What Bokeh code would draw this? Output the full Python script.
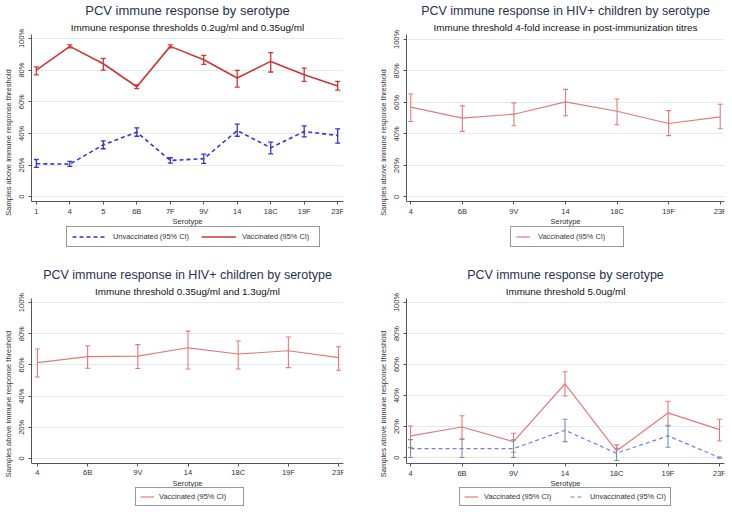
from bokeh.plotting import figure
from bokeh.layouts import gridplot
from bokeh.models import (ColumnDataSource, Whisker, TeeHead, Range1d, FixedTicker,
                          Legend, LegendItem, Title)
from bokeh.embed import file_html
from bokeh.resources import INLINE

FONT = "Liberation Sans"

# ---------------- data (percent of samples above threshold, with 95% CI) ----------------
# Panel 1: thresholds 0.2ug/ml and 0.35ug/ml
p1_serotypes = ["1", "4", "5", "6B", "7F", "9V", "14", "18C", "19F", "23F"]
p1_vacc = [80, 95, 84, 69.5, 95, 86.5, 75, 85.5, 77, 70]
p1_vacc_lo = [77, 94, 80, 68.3, 94, 83.6, 69.3, 78.8, 72.9, 67.4]
p1_vacc_hi = [82, 96, 87.4, 70.6, 96, 89.3, 79.8, 91, 81.3, 72.9]
p1_unvacc = [20.8, 20.6, 32.8, 40.8, 22.9, 24, 41.8, 30.9, 41.2, 38.7]
p1_unvacc_lo = [18.5, 19.1, 30.3, 38.2, 21.2, 21, 38.2, 27.1, 37.8, 33.8]
p1_unvacc_hi = [23.5, 22.3, 35.3, 43.5, 24.6, 26.9, 45.8, 34.5, 44.7, 42.9]

# Panel 2: HIV+ children, 4-fold increase
p2_serotypes = ["4", "6B", "9V", "14", "18C", "19F", "23F"]
p2_vacc = [57, 50, 52.5, 60.3, 54.4, 46.6, 50.8]
p2_vacc_lo = [47.9, 41.6, 45.2, 51.5, 45.8, 38.9, 43.3]
p2_vacc_hi = [65.3, 57.8, 59.7, 68.3, 62.2, 54.8, 58.8]

# Panel 3: HIV+ children, thresholds 0.35ug/ml and 1.3ug/ml
p3_serotypes = ["4", "6B", "9V", "14", "18C", "19F", "23F"]
p3_vacc = [61.5, 65.3, 65.7, 71, 67, 69.1, 64.7]
p3_vacc_lo = [52.3, 57.9, 57.7, 57.4, 57.4, 58.3, 56.6]
p3_vacc_hi = [70.2, 72.3, 73, 81.7, 75.3, 77.9, 71.7]

# Panel 4: threshold 5.0ug/ml
p4_serotypes = ["4", "6B", "9V", "14", "18C", "19F", "23F"]
p4_vacc = [14, 19.7, 10.3, 47.6, 4.3, 28.8, 18]
p4_vacc_lo = [6.4, 11.8, 3.4, 39.7, -1.9, 20.8, 10.7]
p4_vacc_hi = [20.4, 27, 15.7, 55.4, 8.2, 36.3, 24.7]
p4_unvacc = [5.8, 5.8, 5.8, 17.6, 2.8, 14, 0]
p4_unvacc_lo = [0, 0, 0, 10.3, -1.9, 6.7, -0.4]
p4_unvacc_hi = [11.6, 12, 11.4, 24.7, 6, 20.4, 0.4]

y_ticks = [0, 20, 40, 60, 80, 100]
y_tick_labels = ["0", "20%", "40%", "60%", "80%", "100%"]

TITLE_COLOR = "#28324e"
TEXT_COLOR = "#333333"


def make_panel(title, subtitle, cats, series, geo):
    p = figure(width=366, height=256, output_backend="svg", toolbar_location=None,
               x_range=Range1d(geo["x0"], geo["x1"]), y_range=Range1d(geo["y0"], geo["y1"]),
               min_border_left=geo["bl"], min_border_right=geo["br"],
               min_border_top=geo["bt"], min_border_bottom=geo["bb"])
    p.outline_line_color = None
    p.background_fill_color = "white"
    p.border_fill_color = "white"

    p.add_layout(Title(text=subtitle, align="center", text_font=FONT, text_font_size="9.9px",
                       text_font_style="normal", text_color="#111111", standoff=4), "above")
    p.add_layout(Title(text=title, align="center", text_font=FONT,
                       text_font_size=geo["tfs"], text_font_style="normal",
                       text_color=TITLE_COLOR, standoff=0), "above")

    idx = list(range(len(cats)))
    items = []
    for s in series:
        src = ColumnDataSource(dict(x=idx, y=s["y"], lo=s["lo"], hi=s["hi"]))
        r = p.line("x", "y", source=src, line_color=s["color"], line_width=s["lw"],
                   line_dash=s["dash"])
        head_kw = dict(size=5, line_color=s["bar"], line_width=s["blw"])
        w = Whisker(base="x", lower="lo", upper="hi", source=src, line_color=s["bar"],
                    line_width=s["blw"], upper_head=TeeHead(**head_kw),
                    lower_head=TeeHead(**head_kw))
        p.add_layout(w)
        items.append(LegendItem(label=s["label"], renderers=[r]))

    # x axis (drawn at the bottom of the data region; the legend sits below it)
    xa = p.xaxis[0]
    xa.fixed_location = geo["xax"]
    xa.ticker = FixedTicker(ticks=idx)
    xa.major_label_overrides = {i: c for i, c in enumerate(cats)}
    xa.axis_label = "Serotype"
    xa.axis_label_standoff = -2
    xa.major_label_standoff = 2
    xa.minor_tick_line_color = None
    xa.major_tick_in = 0
    xa.major_tick_out = 3
    xa.axis_line_color = "#555555"
    xa.major_tick_line_color = "#555555"
    xa.major_label_text_font = FONT
    xa.major_label_text_font_size = "7.5px"
    xa.major_label_text_color = TEXT_COLOR
    xa.axis_label_text_font = FONT
    xa.axis_label_text_font_size = "7.5px"
    xa.axis_label_text_font_style = "normal"
    xa.axis_label_text_color = TEXT_COLOR

    # y axis
    ya = p.yaxis[0]
    ya.bounds = (geo["xax"], geo["y1"])
    ya.ticker = FixedTicker(ticks=y_ticks)
    ya.major_label_overrides = {t: l for t, l in zip(y_ticks, y_tick_labels)}
    ya.major_label_orientation = "vertical"
    ya.axis_label = "Samples above immune response threshold"
    ya.axis_label_standoff = 2
    ya.major_label_standoff = 2
    ya.minor_tick_line_color = None
    ya.major_tick_in = 0
    ya.major_tick_out = 3
    ya.axis_line_color = "#555555"
    ya.major_tick_line_color = "#555555"
    ya.major_label_text_font = FONT
    ya.major_label_text_font_size = "7.5px"
    ya.major_label_text_color = TEXT_COLOR
    ya.axis_label_text_font = FONT
    ya.axis_label_text_font_size = "7.5px"
    ya.axis_label_text_font_style = "normal"
    ya.axis_label_text_color = TEXT_COLOR

    p.xgrid.visible = False
    p.ygrid.ticker = FixedTicker(ticks=y_ticks)
    p.ygrid.grid_line_color = "#e3ebef"

    leg = Legend(items=items, location=geo["leg"], orientation="horizontal",
                 border_line_color="#333333", border_line_width=1,
                 background_fill_color="white", background_fill_alpha=1.0,
                 padding=geo["lpad"], spacing=geo["lspace"], margin=0,
                 glyph_width=geo["gw"], glyph_height=9, label_height=9,
                 label_width=geo["lw"], label_standoff=geo["lso"],
                 label_text_font=FONT, label_text_font_size="7.4px",
                 label_text_color=TEXT_COLOR)
    p.add_layout(leg)
    return p


RED_DARK = "#d13434"
BLUE_DARK = "#3535d6"
RED_LIGHT = "#e57a7a"
BLUE_LIGHT = "#7878f2"
SLATE = "#7d8da8"

p1 = make_panel(
    "PCV immune response by serotype",
    "Immune response thresholds 0.2ug/ml and 0.35ug/ml",
    p1_serotypes,
    [dict(y=p1_unvacc, lo=p1_unvacc_lo, hi=p1_unvacc_hi, color=BLUE_DARK, bar=BLUE_DARK,
          lw=1.6, blw=1.3, dash="4 3", label="Unvaccinated (95% CI)"),
     dict(y=p1_vacc, lo=p1_vacc_lo, hi=p1_vacc_hi, color=RED_DARK, bar=RED_DARK,
          lw=1.6, blw=1.3, dash="solid", label="Vaccinated (95% CI)")],
    dict(x0=-0.145, x1=9.174, y0=-34.0, y1=102.5, xax=-3.1, bl=27, br=17, bt=33, bb=6,
         tfs="13px", leg=(35, 3), lpad=5, lspace=12, gw=35, lw=72, lso=6))

p2 = make_panel(
    "PCV immune response in HIV+ children by serotype",
    "Immune threshold 4-fold increase in post-immunization titres",
    p2_serotypes,
    [dict(y=p2_vacc, lo=p2_vacc_lo, hi=p2_vacc_hi, color=RED_LIGHT, bar=RED_LIGHT,
          lw=1.2, blw=1.1, dash="solid", label="Vaccinated (95% CI)")],
    dict(x0=-0.083, x1=6.083, y0=-34.0, y1=103.1, xax=-3.1, bl=40, br=5, bt=32, bb=6,
         tfs="12.5px", leg=(104, 3), lpad=5, lspace=10, gw=14, lw=80, lso=8))

p3 = make_panel(
    "PCV immune response in HIV+ children by serotype",
    "Immune threshold 0.35ug/ml and 1.3ug/ml",
    p3_serotypes,
    [dict(y=p3_vacc, lo=p3_vacc_lo, hi=p3_vacc_hi, color=RED_LIGHT, bar=RED_LIGHT,
          lw=1.2, blw=1.1, dash="solid", label="Vaccinated (95% CI)")],
    dict(x0=-0.118, x1=6.098, y0=-32.7, y1=102.6, xax=-3.2, bl=26, br=23, bt=42, bb=3,
         tfs="12.5px", leg=(104, 3), lpad=4, lspace=10, gw=14, lw=80, lso=5))

p4 = make_panel(
    "PCV immune response by serotype",
    "Immune threshold 5.0ug/ml",
    p4_serotypes,
    [dict(y=p4_vacc, lo=p4_vacc_lo, hi=p4_vacc_hi, color=RED_LIGHT, bar=RED_LIGHT,
          lw=1.2, blw=1.1, dash="solid", label="Vaccinated (95% CI)"),
     dict(y=p4_unvacc, lo=p4_unvacc_lo, hi=p4_unvacc_hi, color=BLUE_LIGHT, bar=SLATE,
          lw=1.2, blw=1.1, dash="4 3", label="Unvaccinated (95% CI)")],
    dict(x0=-0.078, x1=6.097, y0=-33.5, y1=102.6, xax=-3.9, bl=40, br=8, bt=42, bb=3,
         tfs="12.5px", leg=(53, 3), lpad=4, lspace=16, gw=14, lw=70, lso=6))

grid = gridplot([[p1, p2], [p3, p4]], toolbar_location=None)

open("out.html", "w").write(file_html(grid, INLINE))
